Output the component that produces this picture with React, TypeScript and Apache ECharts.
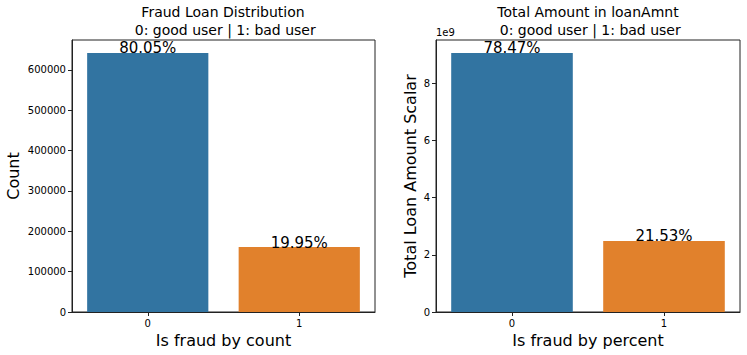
import React, { useEffect, useRef } from "react";
import * as echarts from "echarts";

const categories = ["0", "1"];
const countValues = [642000, 161000];
const countPercents = ["80.05%", "19.95%"];
const amountValues = [9.055e9, 2.485e9];
const amountPercents = ["78.47%", "21.53%"];
const barColors = ["#3274a1", "#e1812c"];

const FONT = "DejaVu Sans";

export default function App() {
  const ref = useRef<HTMLDivElement>(null);
  useEffect(() => {
    if (!ref.current) return;
    const chart = echarts.init(ref.current, undefined, { renderer: "svg" });
    const axisLine = { show: true, lineStyle: { color: "#222", width: 1 } };
    const tick = { show: true, inside: false, length: 4, lineStyle: { color: "#222" } };
    const yLabel = { fontFamily: FONT, fontSize: 10, color: "#000", margin: 6 };
    const titleStyle = { fontFamily: FONT, fontSize: 14, fontWeight: "normal", color: "#000", lineHeight: 18 };
    chart.setOption({
      animation: false,
      backgroundColor: "#fff",
      textStyle: { fontFamily: FONT },
      title: [
        {
          text: "Fraud Loan Distribution\n 0: good user | 1: bad user",
          left: 223,
          top: 3,
          padding: 0,
          textAlign: "center",
          textStyle: titleStyle,
        },
        {
          text: "Total Amount in loanAmnt\n 0: good user | 1: bad user",
          left: 588,
          top: 3,
          padding: 0,
          textAlign: "center",
          textStyle: titleStyle,
        },
      ],
      graphic: [
        {
          type: "text",
          left: 436,
          top: 27,
          style: { text: "1e9", font: `10px "${FONT}"`, fill: "#000" },
        },
      ],
      grid: [
        { left: 72, top: 40, width: 303, height: 272, show: true, borderColor: "#222", borderWidth: 1, containLabel: false },
        { left: 436, top: 40, width: 304, height: 272, show: true, borderColor: "#222", borderWidth: 1, containLabel: false },
      ],
      xAxis: [
        {
          type: "category",
          gridIndex: 0,
          data: categories,
          axisLine,
          axisTick: { ...tick, alignWithLabel: true },
          axisLabel: { fontFamily: FONT, fontSize: 10, color: "#000", margin: 6 },
          name: "Is fraud by count",
          nameLocation: "middle",
          nameGap: 19,
          nameTextStyle: { fontFamily: FONT, fontSize: 16, color: "#000" },
        },
        {
          type: "category",
          gridIndex: 1,
          data: categories,
          axisLine,
          axisTick: { ...tick, alignWithLabel: true },
          axisLabel: { fontFamily: FONT, fontSize: 10, color: "#000", margin: 6 },
          name: "Is fraud by percent",
          nameLocation: "middle",
          nameGap: 19,
          nameTextStyle: { fontFamily: FONT, fontSize: 16, color: "#000" },
        },
      ],
      yAxis: [
        {
          type: "value",
          gridIndex: 0,
          min: 0,
          max: 674100,
          interval: 100000,
          splitLine: { show: false },
          axisLine,
          axisTick: tick,
          axisLabel: {
            ...yLabel,
            showMaxLabel: false,
            formatter: (v: number) => (v % 100000 === 0 ? String(v) : ""),
          },
          name: "Count",
          nameLocation: "middle",
          nameGap: 51,
          nameTextStyle: { fontFamily: FONT, fontSize: 16, color: "#000" },
        },
        {
          type: "value",
          gridIndex: 1,
          min: 0,
          max: 9.508e9,
          interval: 2e9,
          splitLine: { show: false },
          axisLine,
          axisTick: tick,
          axisLabel: {
            ...yLabel,
            showMaxLabel: false,
            formatter: (v: number) => (v % 2e9 === 0 ? String(v / 1e9) : ""),
          },
          name: "Total Loan Amount Scalar",
          nameLocation: "middle",
          nameGap: 18,
          nameTextStyle: { fontFamily: FONT, fontSize: 16, color: "#000" },
        },
      ],
      series: [
        {
          type: "bar",
          xAxisIndex: 0,
          yAxisIndex: 0,
          barCategoryGap: "20%",
          data: countValues.map((v, i) => ({ value: v, itemStyle: { color: barColors[i] } })),
          label: {
            show: true,
            position: "top",
            distance: -3,
            fontFamily: FONT,
            fontSize: 15,
            color: "#000",
            formatter: (p: any) => countPercents[p.dataIndex],
          },
        },
        {
          type: "bar",
          xAxisIndex: 1,
          yAxisIndex: 1,
          barCategoryGap: "20%",
          data: amountValues.map((v, i) => ({ value: v, itemStyle: { color: barColors[i] } })),
          label: {
            show: true,
            position: "top",
            distance: -3,
            fontFamily: FONT,
            fontSize: 15,
            color: "#000",
            formatter: (p: any) => amountPercents[p.dataIndex],
          },
        },
      ],
    });
    return () => chart.dispose();
  }, []);
  return (
    <div
      ref={ref}
      style={{ position: "fixed", left: 0, top: 0, width: 747, height: 355 }}
    />
  );
}
